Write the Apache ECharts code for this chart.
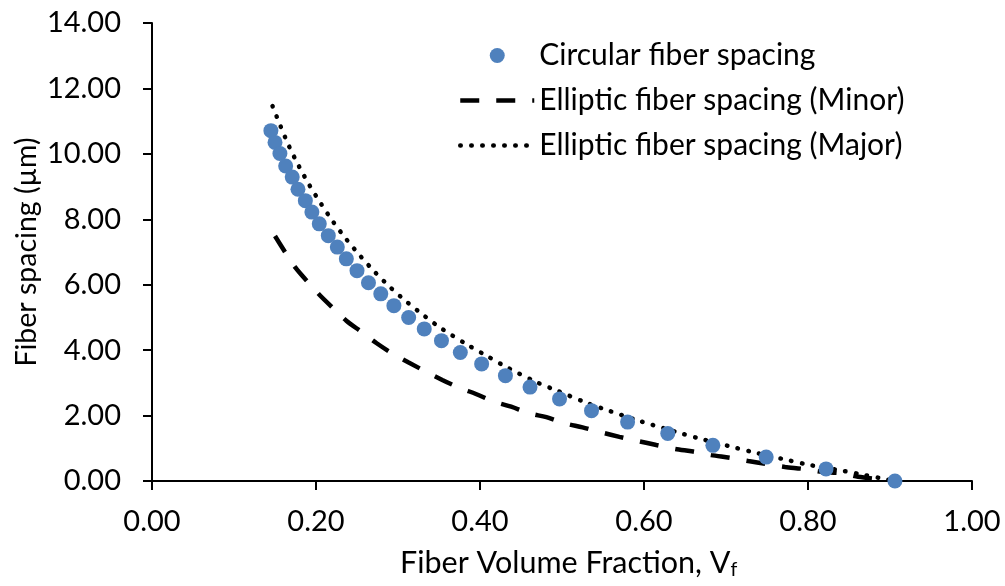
<!DOCTYPE html>
<html>
<head>
<meta charset="utf-8">
<script src="https://cdn.jsdelivr.net/npm/echarts@6/dist/echarts.min.js"></script>
<style>
html,body{margin:0;padding:0;background:#fff;}
#chart{width:1005px;height:586px;}
</style>
</head>
<body>
<div id="chart"></div>
<script>
// Circular fiber spacing (scatter)
const circularX = [0.145,0.150,0.156,0.163,0.171,0.178,0.187,0.195,0.204,0.215,0.226,0.237,0.250,0.264,0.279,0.295,0.313,0.332,0.353,0.376,0.402,0.431,0.461,0.497,0.536,0.580,0.629,0.684,0.749,0.822,0.906];
const circularY = [10.71,10.35,10.01,9.63,9.29,8.92,8.57,8.22,7.86,7.50,7.15,6.79,6.43,6.06,5.72,5.36,5.00,4.65,4.29,3.93,3.58,3.22,2.87,2.51,2.15,1.80,1.45,1.09,0.73,0.37,0.00];
// Elliptic fiber spacing (Minor) - dashed
const minorX = [0.150,0.162,0.175,0.189,0.205,0.221,0.237,0.256,0.274,0.293,0.313,0.354,0.375,0.395,0.418,0.438,0.460,0.481,0.504,0.525,0.549,0.570,0.593,0.615,0.638,0.660,0.682,0.705,0.727,0.749,0.772,0.794,0.817,0.839,0.861,0.906];
const minorY = [7.49,7.01,6.52,6.11,5.67,5.28,4.90,4.55,4.21,3.90,3.62,3.09,2.85,2.66,2.42,2.27,2.07,1.95,1.76,1.64,1.48,1.35,1.22,1.10,0.98,0.90,0.79,0.71,0.61,0.52,0.43,0.37,0.28,0.24,0.13,0.00];
// Elliptic fiber spacing (Major) - dotted
const majorX = [0.147,0.157,0.167,0.179,0.192,0.206,0.221,0.237,0.254,0.272,0.291,0.311,0.332,0.353,0.387,0.410,0.434,0.470,0.494,0.531,0.557,0.594,0.646,0.672,0.711,0.735,0.775,0.802,0.843,0.867,0.892,0.906];
const majorY = [11.46,10.83,10.24,9.63,9.04,8.48,7.92,7.39,6.88,6.38,5.91,5.47,5.05,4.66,4.13,3.80,3.46,3.01,2.76,2.38,2.15,1.84,1.45,1.27,1.02,0.87,0.64,0.49,0.31,0.19,0.07,0.00];

const seriesNames = ['Circular fiber spacing','Elliptic fiber spacing (Minor)','Elliptic fiber spacing (Major)'];
const xTitle = 'Fiber Volume Fraction, V';
const xTitleSub = 'f';
const yTitle = 'Fiber spacing (\u00b5m)';

const zip = (xs, ys) => xs.map((x, i) => [x, ys[i]]);
const FONT = 'Lato';

const dashedStyle = {color: '#000', width: 4.5, type: [19, 17], cap: 'butt'};
const dottedStyle = {color: '#000', width: 4.5, type: [0.5, 10.5], cap: 'round'};

const chart = echarts.init(document.getElementById('chart'), null, {renderer: 'canvas'});
chart.setOption({
  animation: false,
  backgroundColor: '#fff',
  textStyle: {fontFamily: FONT, color: '#000'},
  grid: {left: 152, right: 33, top: 23, bottom: 105, containLabel: false},
  legend: {
    orient: 'vertical',
    left: 453, top: 34,
    padding: 5,
    itemWidth: 74, itemHeight: 15,
    itemGap: 12,
    textStyle: {fontFamily: FONT, fontSize: 30, color: '#000', lineHeight: 33},
    data: [
      {name: seriesNames[0]},
      {name: seriesNames[1], itemStyle: {opacity: 0}, lineStyle: dashedStyle},
      {name: seriesNames[2], itemStyle: {opacity: 0}, lineStyle: dottedStyle}
    ]
  },
  xAxis: {
    type: 'value', min: 0, max: 1, interval: 0.2,
    axisLine: {lineStyle: {color: '#000', width: 2}},
    axisTick: {show: true, inside: false, length: 9, lineStyle: {color: '#000', width: 2}},
    axisLabel: {margin: 26, fontFamily: FONT, fontSize: 29, color: '#000', formatter: v => v.toFixed(2)},
    splitLine: {show: false}
  },
  yAxis: {
    type: 'value', min: 0, max: 14, interval: 2,
    axisLine: {show: true, lineStyle: {color: '#000', width: 2}},
    axisTick: {show: true, inside: false, length: 9, lineStyle: {color: '#000', width: 2}},
    axisLabel: {margin: 31, fontFamily: FONT, fontSize: 29, color: '#000', formatter: v => v.toFixed(2)},
    splitLine: {show: false}
  },
  graphic: [
    {
      type: 'text', x: 400, y: 547,
      style: {
        text: '{a|' + xTitle + '}{b|' + xTitleSub + '}',
        rich: {
          a: {fontFamily: FONT, fontSize: 30.5, fill: '#000'},
          b: {fontFamily: FONT, fontSize: 19.5, fill: '#000', padding: [13, 0, 0, 0]}
        }
      }
    },
    {
      type: 'text', x: 12, y: 252, rotation: Math.PI / 2,
      style: {text: yTitle, fontFamily: FONT, fontSize: 28.5, fill: '#000', align: 'center', verticalAlign: 'top'}
    }
  ],
  series: [
    {
      name: seriesNames[1], type: 'line', data: zip(minorX, minorY),
      symbol: 'none', smooth: 0.3, z: 2,
      lineStyle: dashedStyle,
      itemStyle: {color: '#000'}
    },
    {
      name: seriesNames[2], type: 'line', data: zip(majorX, majorY),
      symbol: 'none', smooth: 0.3, z: 2,
      lineStyle: dottedStyle,
      itemStyle: {color: '#000'}
    },
    {
      name: seriesNames[0], type: 'scatter', data: zip(circularX, circularY),
      symbol: 'circle', symbolSize: 15, z: 5,
      itemStyle: {color: '#4F81BD', opacity: 1}
    }
  ]
});
</script>
</body>
</html>
